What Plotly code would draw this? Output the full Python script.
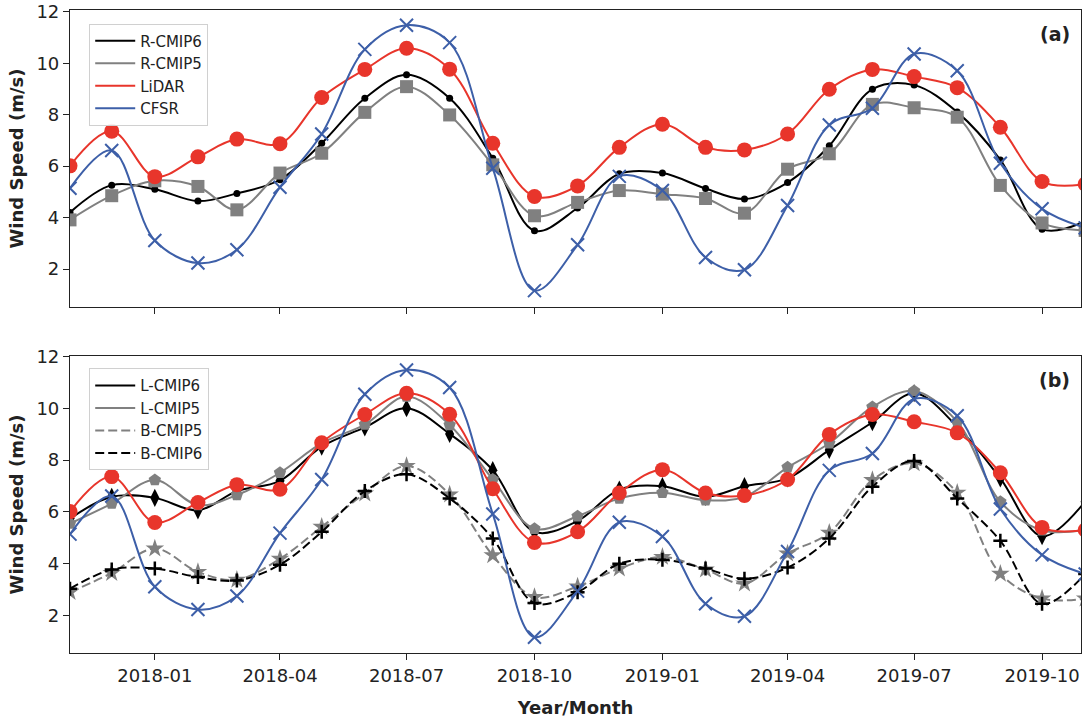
import plotly.graph_objects as go

# ---------------- data ----------------
months = ["2017-11-01", "2017-12-01", "2018-01-01", "2018-02-01", "2018-03-01", "2018-04-01",
          "2018-05-01", "2018-06-01", "2018-07-01", "2018-08-01", "2018-09-01", "2018-10-01",
          "2018-11-01", "2018-12-01", "2019-01-01", "2019-02-01", "2019-03-01", "2019-04-01",
          "2019-05-01", "2019-06-01", "2019-07-01", "2019-08-01", "2019-09-01", "2019-10-01",
          "2019-11-01"]

lidar = [6.01, 7.36, 5.59, 6.36, 7.05, 6.87, 8.67, 9.76, 10.58, 9.77, 6.89, 4.82,
         5.23, 6.73, 7.63, 6.73, 6.63, 7.25, 8.99, 9.76, 9.48, 9.05, 7.51, 5.40, 5.30]
cfsr = [5.14, 6.61, 3.11, 2.23, 2.75, 5.18, 7.25, 10.54, 11.48, 10.80, 5.92, 1.16,
        2.94, 5.60, 5.05, 2.45, 1.97, 4.47, 7.60, 8.25, 10.36, 9.71, 6.11, 4.34, 3.60]
r_cmip6 = [4.20, 5.26, 5.10, 4.64, 4.94, 5.47, 6.89, 8.64, 9.55, 8.64, 6.31, 3.49,
           4.37, 5.70, 5.73, 5.13, 4.72, 5.36, 6.79, 8.99, 9.15, 8.10, 6.24, 3.55, 3.85]
r_cmip5 = [3.91, 4.85, 5.43, 5.21, 4.30, 5.73, 6.50, 8.09, 9.09, 7.99, 6.05, 4.07,
           4.59, 5.05, 4.91, 4.74, 4.17, 5.88, 6.48, 8.40, 8.27, 7.90, 5.25, 3.79, 3.50]

l_cmip6 = [5.74, 6.58, 6.54, 6.06, 6.80, 7.20, 8.52, 9.26, 10.00, 9.01, 7.61, 5.23,
           5.65, 6.86, 6.99, 6.58, 6.99, 7.29, 8.39, 9.46, 10.58, 9.29, 7.29, 5.06, 6.40]
l_cmip5 = [5.55, 6.32, 7.23, 6.26, 6.65, 7.51, 8.65, 9.37, 10.45, 9.35, 7.25, 5.35,
           5.83, 6.52, 6.74, 6.45, 6.58, 7.72, 8.65, 10.05, 10.67, 9.48, 6.39, 5.29, 5.30]
b_cmip5 = [2.90, 3.64, 4.58, 3.68, 3.38, 4.19, 5.42, 6.71, 7.77, 6.67, 4.32, 2.71,
           3.12, 3.81, 4.26, 3.77, 3.23, 4.39, 5.19, 7.23, 7.87, 6.74, 3.61, 2.65, 2.65]
b_cmip6 = [3.03, 3.77, 3.81, 3.48, 3.35, 3.96, 5.23, 6.80, 7.45, 6.52, 4.97, 2.48,
           2.90, 4.00, 4.15, 3.81, 3.42, 3.85, 4.97, 6.97, 7.96, 6.52, 4.88, 2.45, 3.60]

tick_vals = ["2018-01-01", "2018-04-01", "2018-07-01", "2018-10-01",
             "2019-01-01", "2019-04-01", "2019-07-01", "2019-10-01"]
tick_text = ["2018-01", "2018-04", "2018-07", "2018-10",
             "2019-01", "2019-04", "2019-07", "2019-10"]
y_ticks = [2, 4, 6, 8, 10, 12]

# ---------------- styles ----------------
BLACK = "#000000"
GRAY = "#808080"
RED = "#e8352b"
BLUE = "#3d5fa8"
FONT = "DejaVu Sans"
TXT = "#222222"

fig = go.Figure()


def add_series(name, y, color, xa, ya, legend, symbol, msize, dash="solid",
               mline=None, show=True):
    fig.add_trace(go.Scatter(
        x=months, y=y, name=name, mode="lines", xaxis=xa, yaxis=ya,
        line=dict(color=color, width=2, shape="spline", smoothing=1.0, dash=dash),
        showlegend=show, legend=legend, hoverinfo="skip"))
    mk = dict(symbol=symbol, size=msize, color=color)
    mk["line"] = dict(color=color, width=mline) if mline is not None else dict(width=0)
    fig.add_trace(go.Scatter(
        x=months, y=y, mode="markers", xaxis=xa, yaxis=ya, marker=mk,
        showlegend=False, hoverinfo="skip"))


# top panel (a)
add_series("R-CMIP6", r_cmip6, BLACK, "x", "y", "legend", "circle", 7)
add_series("R-CMIP5", r_cmip5, GRAY, "x", "y", "legend", "square", 13)
add_series("LiDAR", lidar, RED, "x", "y", "legend", "circle", 15)
add_series("CFSR", cfsr, BLUE, "x", "y", "legend", "x-thin", 13, mline=2)

# bottom panel (b)
add_series("L-CMIP6", l_cmip6, BLACK, "x2", "y2", "legend2", "diamond-tall", 13)
add_series("L-CMIP5", l_cmip5, GRAY, "x2", "y2", "legend2", "pentagon", 13)
add_series("B-CMIP5", b_cmip5, GRAY, "x2", "y2", "legend2", "star", 14, dash="9px,4px")
add_series("B-CMIP6", b_cmip6, BLACK, "x2", "y2", "legend2", "cross-thin", 10,
           dash="9px,4px", mline=2.5)
add_series("LiDAR", lidar, RED, "x2", "y2", "legend2", "circle", 15, show=False)
add_series("CFSR", cfsr, BLUE, "x2", "y2", "legend2", "x-thin", 13, mline=2, show=False)

x_common = dict(
    type="date", range=["2017-11-01", "2019-10-29"],
    tickvals=tick_vals, ticktext=tick_text, automargin=False,
    ticks="outside", ticklen=6, tickwidth=1, tickcolor=TXT,
    showline=True, linecolor=TXT, linewidth=1.2, mirror=True,
    showgrid=False, zeroline=False,
    tickfont=dict(family=FONT, size=18, color=TXT),
)
y_common = dict(
    tickvals=y_ticks, ticks="outside", ticklen=6, tickwidth=1, tickcolor=TXT,
    showline=True, linecolor=TXT, linewidth=1.2, mirror=True, automargin=False,
    showgrid=False, zeroline=False,
    tickfont=dict(family=FONT, size=18, color=TXT),
    title=dict(text="<b>Wind Speed (m/s)</b>", font=dict(family=FONT, size=18, color=TXT),
               standoff=8),
)

legend_common = dict(
    xanchor="left", yanchor="top",
    bgcolor="rgba(255,255,255,0.9)", bordercolor="#d0d0d0", borderwidth=1,
    font=dict(family=FONT, size=15, color=TXT), tracegroupgap=0, itemwidth=40,
)

fig.update_layout(
    width=1086, height=721,
    margin=dict(l=70, r=5, t=10, b=68),
    paper_bgcolor="white", plot_bgcolor="white",
    font=dict(family=FONT, color=TXT),
    xaxis=dict(**x_common, domain=[0, 1], anchor="y", showticklabels=False, matches="x2"),
    yaxis=dict(**y_common, domain=[0.538, 1], range=[0.52, 12.07], anchor="x"),
    xaxis2=dict(**x_common, domain=[0, 1], anchor="y2",
                title=dict(text="<b>Year/Month</b>", font=dict(family=FONT, size=18, color=TXT),
                           standoff=16)),
    yaxis2=dict(**y_common, domain=[0, 0.462], range=[0.55, 12.02], anchor="x2"),
    legend=dict(x=0.019, y=0.979, **legend_common),
    legend2=dict(x=0.019, y=0.443, **legend_common),
    annotations=[
        dict(text="<b>(a)</b>", x=0.991, y=0.983, xref="paper", yref="paper",
             xanchor="right", yanchor="top", showarrow=False,
             font=dict(family=FONT, size=19, color=TXT)),
        dict(text="<b>(b)</b>", x=0.991, y=0.445, xref="paper", yref="paper",
             xanchor="right", yanchor="top", showarrow=False,
             font=dict(family=FONT, size=19, color=TXT)),
    ],
)

# remove the default page margin so the figure sits at the window's top-left corner
fig.write_html("out.html", config={"displayModeBar": False},
               post_script="document.body.style.margin='0';")
